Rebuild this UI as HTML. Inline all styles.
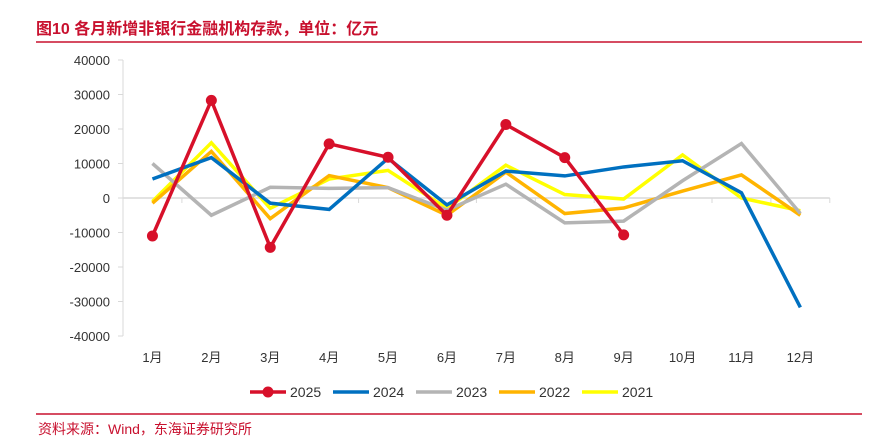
<!DOCTYPE html>
<html><head><meta charset="utf-8"><style>
body{margin:0;background:#fff;width:869px;height:444px;overflow:hidden;font-family:"Liberation Sans","Noto Sans CJK SC",sans-serif}
</style></head><body>
<svg width="869" height="444" style="position:absolute;left:0;top:0">
<text x="36" y="34" font-size="16" font-weight="bold" fill="#c8102e">图10  各月新增非银行金融机构存款，单位：亿元</text>
<line x1="36" y1="42" x2="862" y2="42" stroke="#c8102e" stroke-width="1.5"/>
<line x1="36" y1="414" x2="862" y2="414" stroke="#c8102e" stroke-width="1.5"/>
<text x="38" y="434" font-size="14" fill="#c8102e">资料来源：Wind，东海证券研究所</text>
<g id="axes"></g><g id="series"></g><g id="legend"></g>
</svg>
<script>
const months=["1月","2月","3月","4月","5月","6月","7月","8月","9月","10月","11月","12月"];
const yTicks=[40000,30000,20000,10000,0,-10000,-20000,-30000,-40000];
const s2025=[-11000,28300,-14300,15700,11800,-5000,21300,11700,-10700];
const s2024=[5500,11700,-1500,-3300,11500,-2000,7800,6400,9000,10800,1500,-31700];
const s2023=[10000,-5000,3100,2800,3000,-3500,4000,-7200,-6700,5000,15800,-4500];
const s2022=[-1500,13500,-6000,6500,3000,-5000,7500,-4500,-2900,2000,6700,-5000];
const s2021=[-1000,16000,-3000,5500,8000,-3000,9500,1000,-300,12500,0,-3700];
const names=["2025","2024","2023","2022","2021"];
const colors=["#d7102a","#0070c0","#b4b4b4","#ffb400","#ffff00"];
const data=[s2025,s2024,s2023,s2022,s2021];
const NS="http://www.w3.org/2000/svg";
const X0=123,STEP=58.9,Y0=198,K=34.5/10000;
const x=i=>X0+STEP*(i+0.5), y=v=>Y0-v*K;
function mk(t,a,p){const e=document.createElementNS(NS,t);for(const k in a)e.setAttribute(k,a[k]);p.appendChild(e);return e;}
const ax=document.getElementById('axes');
let l=mk('line',{x1:X0,y1:y(40000),x2:X0,y2:y(-40000),stroke:'#d9d9d9'},ax);


yTicks.forEach(v=>{const t=mk('text',{x:110,y:y(v)+5,'text-anchor':'end','font-size':13,fill:'#333'},ax);t.textContent=v;


mk('line',{x1:X0-5,y1:y(v),x2:X0,y2:y(v),stroke:'#d9d9d9'},ax);});
l=mk('line',{x1:X0,y1:Y0,x2:X0+STEP*12,y2:Y0,stroke:'#d9d9d9',"stroke-width":1.5},ax);


months.forEach((m,i)=>{mk('line',{x1:X0+STEP*(i+1),y1:Y0,x2:X0+STEP*(i+1),y2:Y0+5,stroke:'#d9d9d9'},ax);
const t=mk('text',{x:x(i),y:362,'text-anchor':'middle','font-size':13,fill:'#333'},ax);t.textContent=m;

});
const sg=document.getElementById('series');
for(let k=4;k>=0;k--){const d=data[k];
const p=mk('polyline',{points:d.map((v,i)=>x(i)+','+y(v)).join(' '),fill:'none',stroke:colors[k],'stroke-width':3.5,'stroke-linejoin':'miter'},sg);


if(k===0)d.forEach((v,i)=>{const c=mk('circle',{cx:x(i),cy:y(v),r:5.5,fill:colors[0]},sg);

});}
const lg=document.getElementById('legend');
names.forEach((n,k)=>{const lx=250+83*k;const g=mk('g',{},lg);


mk('line',{x1:lx,y1:392,x2:lx+36,y2:392,stroke:colors[k],'stroke-width':3.5},g);
if(k===0)mk('circle',{cx:lx+18,cy:392,r:5.5,fill:colors[0]},g);
const t=mk('text',{x:lx+40,y:397,'font-size':14,fill:'#333'},g);t.textContent=n;});
</script>
</body></html>
